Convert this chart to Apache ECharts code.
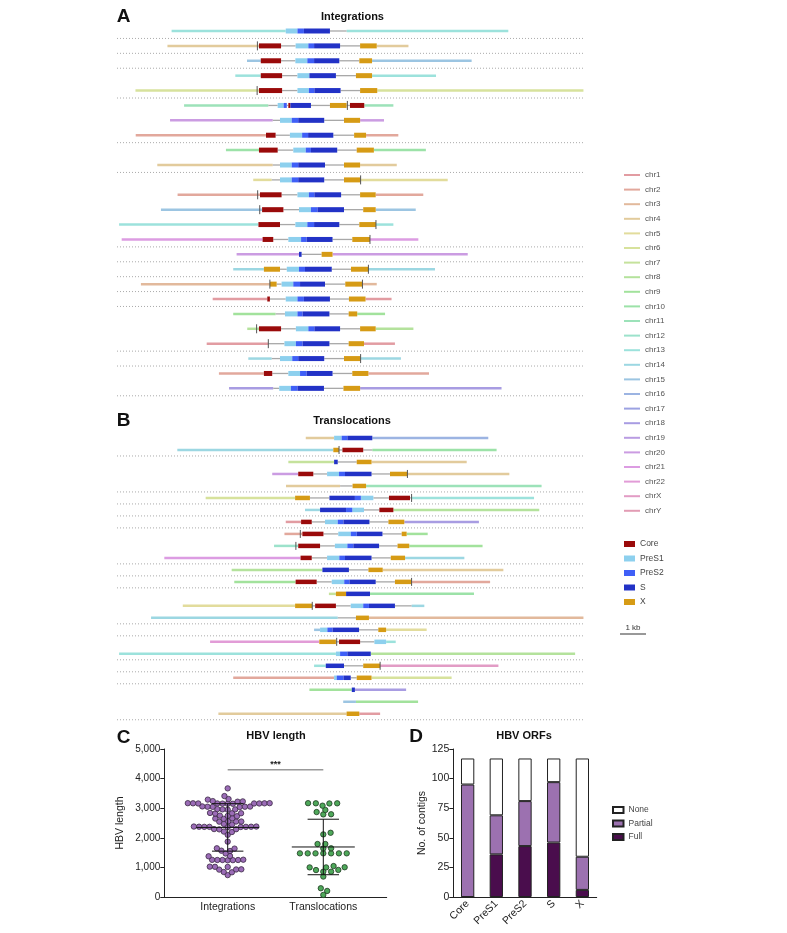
<!DOCTYPE html>
<html>
<head>
<meta charset="utf-8">
<script src="https://cdn.jsdelivr.net/npm/echarts@6/dist/echarts.min.js"></script>
<style>
  html, body { margin: 0; background: #fff; }
  #chart { width: 787px; height: 933px; }
</style>
</head>
<body>
<div id="chart"></div>
<script>
// ---- data ----
const chromosomes = ['chr1','chr2','chr3','chr4','chr5','chr6','chr7','chr8','chr9','chr10','chr11','chr12',
  'chr13','chr14','chr15','chr16','chr17','chr18','chr19','chr20','chr21','chr22','chrX','chrY'];
const orfNames = ['Core', 'PreS1', 'PreS2', 'S', 'X'];

// each contig: start (kb), then pairs of [segment type, end (kb)]; '-' = HBV outside ORFs
const integrationRows = [
  [2.10,'chr13',6.49,'PreS1',6.94,'PreS2',7.19,'S',8.19,'-',8.83,'chr13',15.05],
  [1.94,'chr4',5.46,'Core',6.31,'-',6.87,'PreS1',7.36,'PreS2',7.58,'S',8.58,'-',9.35,'X',9.99,'chr4',11.21],
  [5.00,'chr15',5.53,'Core',6.31,'-',6.86,'PreS1',7.32,'PreS2',7.58,'S',8.55,'-',9.32,'X',9.81,'chr15',13.64],
  [4.55,'chr13',5.53,'Core',6.35,'-',6.94,'PreS1',7.40,'S',8.42,'-',9.19,'X',9.81,'chr13',12.27],
  [0.71,'chr6',5.46,'Core',6.35,'-',6.94,'PreS1',7.38,'PreS2',7.59,'S',8.60,'-',9.35,'X',10.01,'chr6',17.94],
  [2.58,'chr11',5.82,'-',6.18,'PreS1',6.41,'PreS2',6.53,'-',6.59,'Core',6.67,'S',7.46,'-',8.19,'X',8.83,'-',8.96,'Core',9.51,'chr11',10.63],
  [2.04,'chr20',5.99,'-',6.27,'PreS1',6.72,'PreS2',6.97,'S',7.97,'-',8.73,'X',9.35,'chr20',10.27],
  [0.72,'chr2',5.73,'Core',6.10,'-',6.65,'PreS1',7.12,'PreS2',7.35,'S',8.32,'-',9.12,'X',9.58,'chr2',10.82],
  [4.19,'chr10',5.46,'Core',6.18,'-',6.78,'PreS1',7.26,'PreS2',7.46,'S',8.47,'-',9.22,'X',9.88,'chr10',11.88],
  [1.55,'chr4',5.99,'-',6.27,'PreS1',6.72,'PreS2',6.97,'S',8.00,'-',8.73,'X',9.35,'chr4',10.76],
  [5.24,'chr5',5.95,'-',6.27,'PreS1',6.72,'PreS2',6.97,'S',7.97,'-',8.73,'X',9.37,'chr5',12.72],
  [2.33,'chr2',5.50,'Core',6.33,'-',6.94,'PreS1',7.38,'PreS2',7.59,'S',8.62,'-',9.35,'X',9.95,'chr2',11.78],
  [1.69,'chr15',5.58,'Core',6.40,'-',7.00,'PreS1',7.46,'PreS2',7.71,'S',8.73,'-',9.47,'X',9.95,'chr15',11.49],
  [0.08,'chr13',5.44,'Core',6.27,'-',6.86,'PreS1',7.32,'PreS2',7.58,'S',8.55,'-',9.32,'X',9.96,'chr13',10.63],
  [0.18,'chr21',5.60,'Core',6.01,'-',6.59,'PreS1',7.08,'PreS2',7.29,'S',8.29,'-',9.05,'X',9.73,'chr21',11.59],
  [4.60,'chr20',7.00,'S',7.10,'-',7.87,'X',8.29,'chr20',13.49],
  [4.47,'chr14',5.65,'X',6.27,'-',6.53,'PreS1',7.00,'PreS2',7.23,'S',8.26,'-',9.00,'X',9.67,'chr14',12.23],
  [0.92,'chr3',5.88,'X',6.14,'-',6.33,'PreS1',6.78,'PreS2',7.04,'S',8.00,'-',8.78,'X',9.44,'chr3',9.99],
  [3.68,'chr1',5.78,'Core',5.88,'-',6.49,'PreS1',6.94,'PreS2',7.19,'S',8.19,'-',8.92,'X',9.56,'chr1',10.56],
  [4.47,'chr9',6.10,'-',6.46,'PreS1',6.94,'PreS2',7.14,'S',8.17,'-',8.91,'X',9.24,'chr9',10.31],
  [5.01,'chr8',5.46,'Core',6.31,'-',6.88,'PreS1',7.36,'PreS2',7.59,'S',8.58,'-',9.35,'X',9.95,'chr8',11.40],
  [3.45,'chr1',5.82,'-',6.44,'PreS1',6.88,'PreS2',7.14,'S',8.17,'-',8.91,'X',9.50,'chr1',10.69],
  [5.05,'chr14',5.95,'-',6.27,'PreS1',6.74,'PreS2',6.97,'S',7.97,'-',8.73,'X',9.37,'chr14',10.92],
  [3.92,'chr2',5.65,'Core',5.97,'-',6.59,'PreS1',7.04,'PreS2',7.29,'S',8.29,'-',9.05,'X',9.67,'chr2',12.00],
  [4.31,'chr18',6.01,'-',6.24,'PreS1',6.69,'PreS2',6.94,'S',7.96,'-',8.71,'X',9.35,'chr18',14.79]
];
// breakpoints: [row number, position kb]
const integrationBreaks = [[2,5.40],[5,5.39],[6,8.86],[11,9.37],[12,5.41],[13,5.49],[14,9.96],[15,9.73],
  [17,9.67],[18,5.88],[18,9.44],[21,5.37],[22,5.82],[23,9.37]];
// dotted separators drawn after these row numbers
const integrationSeps = [1,2,3,5,8,10,15,16,17,18,19,22,23,25];

const translocationRows = [
  [7.26,'chr4',8.35,'PreS1',8.64,'PreS2',8.86,'S',9.82,'chr16',14.28],
  [2.32,'chr14',8.32,'X',8.54,'-',8.67,'Core',9.47,'-',9.82,'chr10',14.60],
  [6.59,'chr7',8.35,'S',8.49,'-',9.22,'X',9.79,'chr4',13.45],
  [5.97,'chr20',6.97,'Core',7.55,'-',8.08,'PreS1',8.54,'PreS2',8.77,'S',9.79,'-',10.50,'X',11.17,'chr4',15.09],
  [6.50,'chr4',8.58,'-',9.06,'X',9.58,'chr11',16.33],
  [3.41,'chr6',6.85,'X',7.42,'-',8.17,'S',9.15,'PreS2',9.38,'PreS1',9.86,'-',10.46,'Core',11.27,'-',11.33,'chr13',16.04],
  [7.23,'chr14',7.81,'S',8.81,'PreS2',9.05,'PreS1',9.50,'-',10.09,'Core',10.63,'chr8',16.24],
  [6.49,'chr1',7.08,'Core',7.49,'-',8.00,'PreS1',8.49,'PreS2',8.71,'S',9.71,'-',10.44,'X',11.05,'chr18',13.92],
  [6.44,'chr2',7.13,'Core',7.94,'-',8.51,'PreS1',8.99,'PreS2',9.22,'S',10.21,'-',10.95,'X',11.14,'chr9',11.95],
  [6.04,'chr12',6.97,'Core',7.81,'-',8.38,'PreS1',8.86,'PreS2',9.09,'S',10.08,'-',10.79,'X',11.24,'chr9',14.06],
  [1.82,'chr21',7.06,'Core',7.49,'-',8.08,'PreS1',8.55,'PreS2',8.77,'S',9.79,'-',10.53,'X',11.08,'chr14',13.36],
  [4.41,'chr8',7.90,'S',8.92,'-',9.67,'X',10.22,'chr4',14.86],
  [4.51,'chr9',6.87,'Core',7.68,'-',8.26,'PreS1',8.74,'PreS2',8.94,'S',9.95,'-',10.69,'X',11.33,'chr2',14.35],
  [8.15,'chr7',8.42,'X',8.81,'S',9.73,'chr10',13.73],
  [2.53,'chr5',6.85,'X',7.51,'-',7.62,'Core',8.42,'-',8.99,'PreS1',9.47,'PreS2',9.69,'S',10.69,'-',11.33,'chr14',11.82],
  [1.31,'chr14',8.49,'-',9.19,'X',9.69,'chr3',17.94],
  [7.58,'chr15',7.81,'PreS1',8.09,'PreS2',8.29,'S',9.31,'-',10.05,'X',10.35,'chr5',11.91],
  [3.58,'chr22',7.78,'X',8.42,'-',8.54,'Core',9.35,'-',9.90,'PreS1',10.35,'chr13',10.72],
  [0.08,'chr13',8.42,'PreS1',8.58,'PreS2',8.86,'S',9.76,'chr8',17.62],
  [7.58,'chr13',8.03,'S',8.73,'-',9.47,'X',10.12,'chrX',14.67],
  [4.47,'chr2',8.35,'PreS1',8.45,'PreS2',8.71,'S',8.99,'-',9.22,'X',9.79,'chr6',12.87],
  [7.40,'chr9',9.03,'S',9.15,'chr18',11.12],
  [8.70,'chr15',9.19,'chr9',11.58],
  [3.90,'chr4',8.83,'X',9.32,'chr1',10.12]
];
const translocationBreaks = [[2,8.54],[4,11.17],[6,11.33],[9,7.05],[10,6.88],[13,11.33],[15,7.51],[18,8.45],[20,10.12]];
const translocationSeps = [2,5,6,7,8,11,12,13,16,17,19,20,21,24];

// panel C: HBV length per contig
const integrationLengths = [
  3670, 3410, 3310, 3290, 3240, 3230, 3220,
  3170, 3165, 3160, 3160, 3155, 3150, 3170, 3160, 3165, 3150, 3160,
  3060, 3050, 3045, 3050, 3040, 3055,
  2970, 2960, 2950, 2960,
  2840, 2830, 2820, 2830,
  2750, 2740, 2730,
  2660, 2650, 2640,
  2560, 2550, 2545, 2550,
  2470, 2450,
  2380, 2370, 2375, 2365, 2370, 2380, 2360, 2370, 2375,
  2290, 2285, 2295,
  2210, 2195,
  2100, 1870,
  1645, 1635, 1565, 1555, 1470, 1385, 1375,
  1255, 1250, 1245, 1250, 1260, 1250, 1240,
  1025, 1020, 1015, 935, 930, 925, 845, 835, 740
];
const translocationLengths = [
  3165, 3170, 3160, 3165, 3085, 2940, 2870, 2795, 2790,
  2170, 2115, 1790, 1790, 1645, 1640,
  1475, 1475, 1475, 1475, 1475, 1475, 1475,
  1045, 1005, 1000, 1000, 915, 910, 855, 855, 690, 295, 205, 70
];
const groupNames = ['Integrations', 'Translocations'];
const lengthTicks = [0, 1000, 2000, 3000, 4000, 5000];
const significance = [[1, 2, 4300, '***']];

// panel D: HBV ORFs
const orfCats = ['Core', 'PreS1', 'PreS2', 'S', 'X'];
const orfFull = [0, 36, 43, 46, 6];
const orfPartial = [95, 33, 38, 51, 28];
const orfNone = [22, 48, 36, 20, 83];

// ---- layout / style ----
const FONT = 'Liberation Sans, Arial, sans-serif';
const KB_MAX = 18;
const TRACK_LEFT = 117, TRACK_W = 468;
const A_TOP = 23.55, A_ROW = 14.89;
const B_TOP = 432, B_ROW = 11.99;
const C_LEFT = 164.3, C_TOP = 749, C_W = 222.4, C_H = 148, C_MIN = 0.337, C_MAX = 2.663;
const ORF_COLORS = { Core: '#9a0a0a', PreS1: '#8dd0ee', PreS2: '#3f5ff7', S: '#2232c6', X: '#d69b15' };
const chrColor = i => 'hsl(' + ((355 + i * 15) % 360) + ', 55%, 75%)';

function parseRows(rows) {
  const segs = [];
  rows.forEach((r, i) => {
    let x = r[0];
    for (let k = 1; k < r.length; k += 2) {
      segs.push([r[k], x, r[k + 1], i + 0.5]);
      x = r[k + 1];
    }
  });
  return segs;
}

function segItem(h) {
  return function (params, api) {
    const a = api.coord([api.value(0), api.value(2)]);
    const b = api.coord([api.value(1), api.value(2)]);
    return { type: 'rect', shape: { x: a[0], y: a[1] - h / 2, width: b[0] - a[0], height: h },
      style: { fill: api.visual('color') } };
  };
}

function segSeries(name, color, segs, h, gi) {
  return { type: 'custom', name: name, xAxisIndex: gi, yAxisIndex: gi, silent: true,
    itemStyle: { color: color }, renderItem: segItem(h),
    data: segs.map(s => [s[1], s[2], s[3]]) };
}

function trackSeries(rows, breaks, seps, gi, orfH, flankH, tickH) {
  const segs = parseRows(rows);
  const out = [];
  out.push({ type: 'custom', xAxisIndex: gi, yAxisIndex: gi, silent: true,
    data: seps.map(k => [k]),
    renderItem: (params, api) => {
      const a = api.coord([0, api.value(0)]), b = api.coord([KB_MAX, api.value(0)]);
      return { type: 'line', shape: { x1: a[0], y1: a[1], x2: b[0], y2: b[1] },
        style: { stroke: '#aaa', lineWidth: 1, lineDash: [1, 2] } };
    } });
  chromosomes.forEach((c, i) => out.push(segSeries(c, chrColor(i), segs.filter(s => s[0] === c), flankH, gi)));
  out.push(segSeries('HBV', '#a8a8a8', segs.filter(s => s[0] === '-'), 1.3, gi));
  orfNames.forEach(o => out.push(segSeries(o, ORF_COLORS[o], segs.filter(s => s[0] === o), orfH, gi)));
  out.push({ type: 'custom', xAxisIndex: gi, yAxisIndex: gi, silent: true,
    data: breaks.map(b => [b[1], b[0] - 0.5]),
    renderItem: (params, api) => {
      const p = api.coord([api.value(0), api.value(1)]);
      return { type: 'line', shape: { x1: p[0], y1: p[1] - tickH / 2, x2: p[0], y2: p[1] + tickH / 2 },
        style: { stroke: '#555', lineWidth: 1 } };
    } });
  return out;
}

// column scatter: each point goes to the free spot nearest the centre (dx/dy = spacing in px)
function swarm(vals, cx, dx, dy) {
  const pxX = C_W / (C_MAX - C_MIN), pxY = C_H / 5000;
  const placed = [];
  return vals.slice().sort((a, b) => a - b).map(v => {
    const y = v * pxY;
    const blocks = placed.filter(p => Math.abs(p[1] - y) < dy).map(p => {
      const w = dx * Math.sqrt(1 - ((p[1] - y) / dy) ** 2);
      return [p[0] - w, p[0] + w];
    });
    const cands = [0];
    blocks.forEach(b => cands.push(b[0], b[1]));
    cands.sort((a, b) => Math.abs(a) - Math.abs(b) || b - a);
    const x = cands.find(c => blocks.every(b => c <= b[0] + 1e-6 || c >= b[1] - 1e-6));
    placed.push([x, y]);
    return [cx + x / pxX, v];
  });
}

function meanSd(vals) {
  const m = vals.reduce((s, v) => s + v, 0) / vals.length;
  const sd = Math.sqrt(vals.reduce((s, v) => s + (v - m) ** 2, 0) / (vals.length - 1));
  return [m, sd];
}

const axisDark = { lineStyle: { color: '#222', width: 1 } };
const hidden = { show: false };

const chart = echarts.init(document.getElementById('chart'));
const stInt = meanSd(integrationLengths), stTr = meanSd(translocationLengths);

chart.setOption({
  animation: false,
  textStyle: { fontFamily: FONT },
  grid: [
    { left: TRACK_LEFT, top: A_TOP, width: TRACK_W, height: A_ROW * integrationRows.length },
    { left: TRACK_LEFT, top: B_TOP, width: TRACK_W, height: B_ROW * translocationRows.length },
    { left: C_LEFT, top: C_TOP, width: C_W, height: C_H },
    { left: 453.3, top: C_TOP, width: 143.4, height: C_H }
  ],
  xAxis: [
    { gridIndex: 0, type: 'value', min: 0, max: KB_MAX, show: false },
    { gridIndex: 1, type: 'value', min: 0, max: KB_MAX, show: false },
    { gridIndex: 2, type: 'value', min: C_MIN, max: C_MAX, splitLine: hidden, axisTick: hidden,
      axisLine: axisDark,
      axisLabel: { customValues: [1, 2], formatter: v => groupNames[Math.round(v) - 1] || '',
        fontSize: 10.5, color: '#222', margin: 5 } },
    { gridIndex: 3, type: 'category', data: orfCats, axisTick: hidden, axisLine: axisDark,
      axisLabel: { rotate: 45, fontSize: 10.5, color: '#222', margin: 5, interval: 0 } }
  ],
  yAxis: [
    { gridIndex: 0, type: 'value', min: 0, max: integrationRows.length, inverse: true, show: false },
    { gridIndex: 1, type: 'value', min: 0, max: translocationRows.length, inverse: true, show: false },
    { gridIndex: 2, type: 'value', min: 0, max: 5000, interval: 1000, splitLine: hidden,
      axisLine: { show: true, lineStyle: { color: '#222' } },
      axisTick: { show: true, length: 4, lineStyle: { color: '#222' } },
      axisLabel: { fontSize: 10, color: '#222', margin: 4,
        customValues: lengthTicks, formatter: v => v.toLocaleString('en-US') },
      name: 'HBV length', nameLocation: 'middle', nameGap: 39,
      nameTextStyle: { fontSize: 10.5, color: '#222' } },
    { gridIndex: 3, type: 'value', min: 0, max: 125, interval: 25, splitLine: hidden,
      axisLine: { show: true, lineStyle: { color: '#222' } },
      axisTick: { show: true, length: 4, lineStyle: { color: '#222' } },
      axisLabel: { fontSize: 10.5, color: '#222', margin: 4 },
      name: 'No. of contigs', nameLocation: 'middle', nameGap: 23,
      nameTextStyle: { fontSize: 10.5, color: '#222' } }
  ],
  legend: [
    { data: chromosomes, orient: 'vertical', left: 619, top: 165, icon: 'rect', itemWidth: 16, itemHeight: 2,
      itemGap: 4.6, selectedMode: false, textStyle: { fontSize: 8, color: '#555', lineHeight: 10 } },
    { data: orfNames, orient: 'vertical', left: 619, top: 534, icon: 'rect', itemWidth: 11, itemHeight: 6,
      itemGap: 4.5, selectedMode: false, textStyle: { fontSize: 8.5, color: '#444', lineHeight: 10 } },
    { data: ['None', 'Partial', 'Full'], orient: 'vertical', left: 607, top: 800, icon: 'rect',
      itemWidth: 10.5, itemHeight: 6, itemGap: 3.5, selectedMode: false,
      textStyle: { fontSize: 8.5, color: '#444', lineHeight: 10 } }
  ],
  graphic: [
    { type: 'text', x: 123.5, y: 17, style: { text: 'A', font: 'bold 19px ' + FONT, fill: '#111', align: 'center', verticalAlign: 'middle' } },
    { type: 'text', x: 352.5, y: 17, style: { text: 'Integrations', font: 'bold 11px ' + FONT, fill: '#111', align: 'center', verticalAlign: 'middle' } },
    { type: 'text', x: 123.5, y: 421, style: { text: 'B', font: 'bold 19px ' + FONT, fill: '#111', align: 'center', verticalAlign: 'middle' } },
    { type: 'text', x: 352, y: 421, style: { text: 'Translocations', font: 'bold 11px ' + FONT, fill: '#111', align: 'center', verticalAlign: 'middle' } },
    { type: 'text', x: 123.5, y: 738, style: { text: 'C', font: 'bold 19px ' + FONT, fill: '#111', align: 'center', verticalAlign: 'middle' } },
    { type: 'text', x: 276, y: 736, style: { text: 'HBV length', font: 'bold 11px ' + FONT, fill: '#111', align: 'center', verticalAlign: 'middle' } },
    { type: 'text', x: 416, y: 737, style: { text: 'D', font: 'bold 19px ' + FONT, fill: '#111', align: 'center', verticalAlign: 'middle' } },
    { type: 'text', x: 524, y: 736, style: { text: 'HBV ORFs', font: 'bold 11px ' + FONT, fill: '#111', align: 'center', verticalAlign: 'middle' } },
    { type: 'line', shape: { x1: 620, y1: 634, x2: 620 + TRACK_W / KB_MAX, y2: 634 }, style: { stroke: '#333', lineWidth: 1 } },
    { type: 'text', x: 620 + TRACK_W / KB_MAX / 2, y: 628, style: { text: '1 kb', font: '8px ' + FONT, fill: '#333', align: 'center', verticalAlign: 'middle' } }
  ],
  series: [
    ...trackSeries(integrationRows, integrationBreaks, integrationSeps, 0, 5, 2.5, 9),
    ...trackSeries(translocationRows, translocationBreaks, translocationSeps, 1, 4.5, 2.5, 8),
    { type: 'scatter', name: 'Integrations', xAxisIndex: 2, yAxisIndex: 2, symbolSize: 5.4, silent: true,
      itemStyle: { color: '#9b6cb7', borderColor: '#3b2a44', borderWidth: 0.8, opacity: 1 },
      data: swarm(integrationLengths, 1, 5.2, 4.8) },
    { type: 'scatter', name: 'Translocations', xAxisIndex: 2, yAxisIndex: 2, symbolSize: 5.4, silent: true,
      itemStyle: { color: '#4ea85a', borderColor: '#1f3a22', borderWidth: 0.8, opacity: 1 },
      data: swarm(translocationLengths, 2, 7.8, 4.6) },
    { type: 'custom', xAxisIndex: 2, yAxisIndex: 2, silent: true, z: 5,
      data: [[1, stInt[0], stInt[1]], [2, stTr[0], stTr[1]]],
      renderItem: (params, api) => {
        const x = api.value(0), m = api.value(1), s = api.value(2);
        const c = api.coord([x, m]), t = api.coord([x, m + s]), b = api.coord([x, m - s]);
        const st = { stroke: '#111', lineWidth: 1 };
        return { type: 'group', children: [
          { type: 'line', shape: { x1: c[0] - 31.5, y1: c[1], x2: c[0] + 31.5, y2: c[1] }, style: st },
          { type: 'line', shape: { x1: c[0], y1: t[1], x2: c[0], y2: b[1] }, style: st },
          { type: 'line', shape: { x1: c[0] - 15.7, y1: t[1], x2: c[0] + 15.7, y2: t[1] }, style: st },
          { type: 'line', shape: { x1: c[0] - 15.7, y1: b[1], x2: c[0] + 15.7, y2: b[1] }, style: st }
        ] };
      } },
    { type: 'custom', xAxisIndex: 2, yAxisIndex: 2, silent: true,
      data: significance,
      renderItem: (params, api) => {
        const a = api.coord([api.value(0), api.value(2)]), b = api.coord([api.value(1), api.value(2)]);
        return { type: 'group', children: [
          { type: 'line', shape: { x1: a[0], y1: a[1], x2: b[0], y2: b[1] }, style: { stroke: '#999', lineWidth: 1.4 } },
          { type: 'text', x: (a[0] + b[0]) / 2, y: a[1] - 5,
            style: { text: significance[params.dataIndex][3], font: 'bold 9px ' + FONT, fill: '#222', align: 'center', verticalAlign: 'middle' } }
        ] };
      } },
    { type: 'bar', name: 'Full', xAxisIndex: 3, yAxisIndex: 3, stack: 'orf', barWidth: 13.3, data: orfFull,
      itemStyle: { color: '#4a0d4d', borderColor: '#222', borderWidth: 1 } },
    { type: 'bar', name: 'Partial', xAxisIndex: 3, yAxisIndex: 3, stack: 'orf', barWidth: 13.3, data: orfPartial,
      itemStyle: { color: '#9c71b0', borderColor: '#222', borderWidth: 1 } },
    { type: 'bar', name: 'None', xAxisIndex: 3, yAxisIndex: 3, stack: 'orf', barWidth: 13.3, data: orfNone,
      itemStyle: { color: '#ffffff', borderColor: '#222', borderWidth: 1 } }
  ]
});
</script>
</body>
</html>
